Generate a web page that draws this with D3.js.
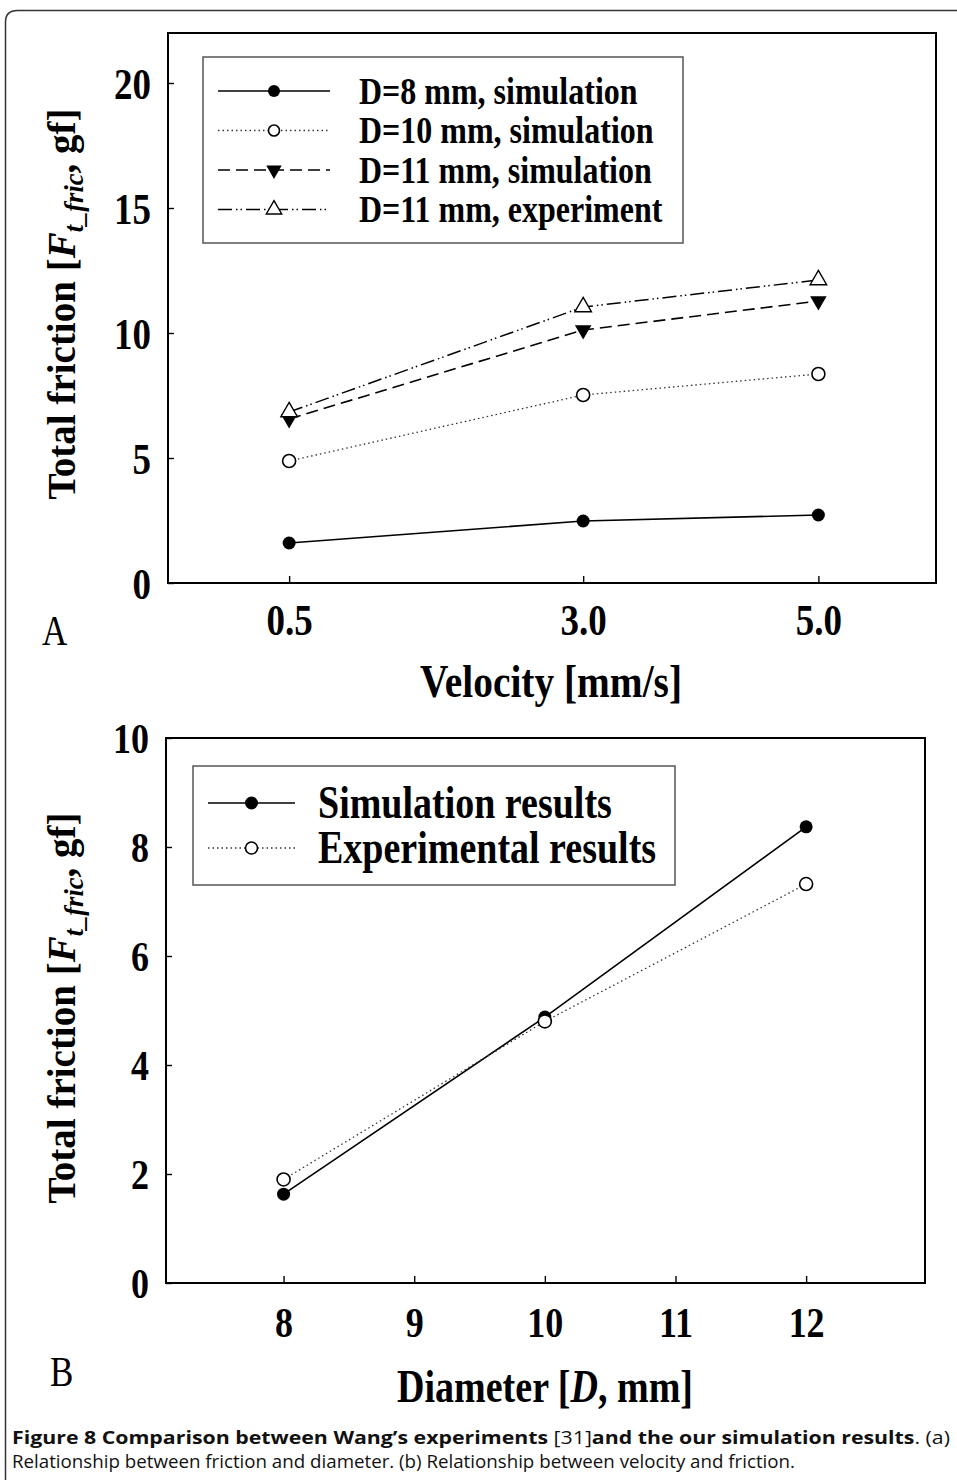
<!DOCTYPE html>
<html><head><meta charset="utf-8">
<script src="https://cdn.jsdelivr.net/npm/d3@7"></script>
<style>
body{margin:0;background:#fff;}
svg{display:block;}
.serif{font-family:"Liberation Serif","Times New Roman",serif;}
.cap{font-family:"Open Sans","Noto Sans",sans-serif;}
</style></head>
<body>
<svg id="chart" width="957" height="1480"></svg>
<script>
// ---------- data ----------
const velocity = [0.5, 3.0, 5.0];
const d8Sim  = [1.6, 2.48, 2.72];
const d10Sim = [4.88, 7.52, 8.36];
const d11Sim = [6.56, 10.12, 11.28];
const d11Exp = [6.84, 11.04, 12.12];
const velocityTicks = [0.5, 3.0, 5.0];
const frictionTicksA = [0, 5, 10, 15, 20];
const legendA = ["D=8 mm, simulation", "D=10 mm, simulation", "D=11 mm, simulation", "D=11 mm, experiment"];

const diameter = [8, 10, 12];
const simResults = [1.63, 4.88, 8.37];
const expResults = [1.9, 4.8, 7.32];
const diameterTicks = [8, 9, 10, 11, 12];
const frictionTicksB = [0, 2, 4, 6, 8, 10];
const legendB = ["Simulation results", "Experimental results"];

const svg = d3.select("#chart");
const SY = 1.2; // vertical stretch of the serif glyphs

// outer frame
svg.append("path")
  .attr("d", "M5.5,1490 L5.5,22 Q5.5,10.5 17.5,10.5 L970,10.5")
  .attr("fill","none").attr("stroke","#333").attr("stroke-width",1.5);

function stretchedText(g, x, y, size, anchor, weight){
  return g.append("text").attr("class","serif")
    .attr("transform", `translate(${x},${y}) scale(1,${SY})`)
    .attr("text-anchor", anchor).attr("font-size", size).attr("font-weight", weight||"bold");
}

function marker(g, type, x, y, s){
  if(type==="fcircle") g.append("circle").attr("cx",x).attr("cy",y).attr("r",s).attr("fill","#000");
  else if(type==="ocircle") g.append("circle").attr("cx",x).attr("cy",y).attr("r",s).attr("fill","#fff").attr("stroke","#000").attr("stroke-width",1.6);
  else if(type==="tdown") g.append("path").attr("d",d3.symbol(d3.symbolTriangle, s*s*2.1)()).attr("transform",`translate(${x},${y}) rotate(180)`).attr("fill","#000");
  else if(type==="tup") g.append("path").attr("d",d3.symbol(d3.symbolTriangle, s*s*2.1)()).attr("transform",`translate(${x},${y})`).attr("fill","#fff").attr("stroke","#000").attr("stroke-width",1.4);
}

function drawPanel(cfg){
  const g = svg.append("g");
  const x = d3.scaleLinear().domain(cfg.xDomain).range([cfg.left, cfg.right]);
  const y = d3.scaleLinear().domain(cfg.yDomain).range([cfg.bottom, cfg.top]);

  // axes (inward ticks)
  const ax = g.append("g").attr("transform",`translate(0,${cfg.bottom})`)
    .call(d3.axisBottom(x).tickValues(cfg.xTicks).tickSizeInner(-7).tickSizeOuter(0).tickPadding(0).tickFormat(cfg.xFmt));
  const ay = g.append("g").attr("transform",`translate(${cfg.left},0)`)
    .call(d3.axisLeft(y).tickValues(cfg.yTicks).tickSizeInner(-6).tickSizeOuter(0).tickPadding(0).tickFormat(d3.format("d")));
  [ax, ay].forEach(a=>{ a.select(".domain").remove(); a.selectAll("line").attr("stroke","#000").attr("stroke-width",1.4); });
  ax.selectAll("text").attr("class","serif").attr("font-size",cfg.tickSize).attr("font-weight","bold").attr("fill","#000")
    .attr("y",null).attr("dy",null).attr("transform",`translate(0,${cfg.xTickDy}) scale(1,${SY})`);
  ay.selectAll("text").attr("class","serif").attr("font-size",cfg.tickSize).attr("font-weight","bold").attr("fill","#000")
    .attr("x",null).attr("dy",null).attr("text-anchor","end").attr("transform",`translate(${-cfg.yTickDx},${cfg.tickSize*0.34*SY}) scale(1,${SY})`);

  // frame
  g.append("rect").attr("x",cfg.left).attr("y",cfg.top).attr("width",cfg.right-cfg.left).attr("height",cfg.bottom-cfg.top)
    .attr("fill","none").attr("stroke","#000").attr("stroke-width",2);

  // series
  cfg.series.forEach(s=>{
    const pts = cfg.xs.map((v,i)=>[x(v), y(s.values[i])]);
    g.append("path").attr("d", d3.line()(pts)).attr("fill","none").attr("stroke",s.stroke||"#000")
      .attr("stroke-width",s.width).attr("stroke-dasharray",s.dash);
    pts.forEach(p=>marker(g, s.marker, p[0], p[1], s.size));
  });

  // legend
  const L = cfg.legend;
  g.append("rect").attr("x",L.x).attr("y",L.y).attr("width",L.w).attr("height",L.h)
    .attr("fill","#fff").attr("stroke","#555").attr("stroke-width",1.5);
  cfg.series.forEach((s,i)=>{
    const cy = L.y0 + i*L.dy;
    g.append("line").attr("x1",L.lx1).attr("x2",L.lx2).attr("y1",cy).attr("y2",cy)
      .attr("stroke",s.stroke||"#000").attr("stroke-width",s.width).attr("stroke-dasharray",s.dash);
    marker(g, s.marker, (L.lx1+L.lx2)/2, cy, s.lsize);
    stretchedText(g, L.tx, cy + L.fs*0.33*SY, L.fs, "start").text(cfg.labels[i]);
  });

  // panel letter
  stretchedText(g, cfg.letter[0], cfg.letter[1], 35, "start", "normal").text(cfg.letter[2]);

  // y title
  const yt = g.append("text").attr("class","serif").attr("font-weight","bold").attr("font-size",cfg.yTitleSize)
    .attr("text-anchor","middle").attr("transform",`translate(${cfg.yTitleX},${cfg.yTitleY}) rotate(-90)`);
  yt.append("tspan").text("Total friction [");
  yt.append("tspan").attr("font-style","italic").text("F");
  yt.append("tspan").attr("font-style","italic").attr("font-size",cfg.yTitleSize*0.68).attr("dy",8).text("t_fric");
  yt.append("tspan").attr("dy",-8).text(", gf]");

  // x title
  const xt = stretchedText(g, cfg.xTitle.x, cfg.xTitle.y, cfg.xTitle.fs, "middle");
  cfg.xTitle.parts.forEach(p=>xt.append("tspan").attr("font-style",p[1]?"italic":null).text(p[0]));
  if(cfg.xTitle.len) xt.attr("textLength",cfg.xTitle.len).attr("lengthAdjust","spacingAndGlyphs");
}

drawPanel({
  left:168, right:936, top:33, bottom:583,
  xDomain:[-0.53, 6.0], yDomain:[0, 22],
  xTicks:velocityTicks, yTicks:frictionTicksA, xFmt:d3.format(".1f"),
  tickSize:37, xTickDy:52, yTickDx:17,
  xs:velocity,
  series:[
    {values:d8Sim, marker:"fcircle", size:6.5, lsize:6, width:1.6, dash:null},
    {values:d10Sim, marker:"ocircle", size:6.5, lsize:5.5, width:1.3, dash:"1.5,3", stroke:"#333"},
    {values:d11Sim, marker:"tdown", size:7.5, lsize:7, width:1.6, dash:"12,6"},
    {values:d11Exp, marker:"tup", size:7.5, lsize:7, width:1.5, dash:"14,4,1.5,3,1.5,4"}
  ],
  labels:legendA,
  legend:{x:203, y:57, w:480, h:186, lx1:218, lx2:330, tx:359, y0:91, dy:39.5, fs:32},
  letter:[42, 645, "A"],
  yTitleX:75, yTitleY:304, yTitleSize:39,
  xTitle:{x:551, y:697, fs:38, parts:[["Velocity [mm/s]",false]], len:262}
});

drawPanel({
  left:166, right:925, top:738, bottom:1283,
  xDomain:[7.1, 12.91], yDomain:[0, 10],
  xTicks:diameterTicks, yTicks:frictionTicksB, xFmt:d3.format("d"),
  tickSize:36, xTickDy:54, yTickDx:17,
  xs:diameter,
  series:[
    {values:simResults, marker:"fcircle", size:6.5, lsize:6.5, width:1.6, dash:null},
    {values:expResults, marker:"ocircle", size:6.5, lsize:6, width:1.3, dash:"1.5,3", stroke:"#333"}
  ],
  labels:legendB,
  legend:{x:193, y:766, w:482, h:119, lx1:208, lx2:295, tx:318, y0:803, dy:45, fs:38},
  letter:[50, 1386, "B"],
  yTitleX:75, yTitleY:1008, yTitleSize:39,
  xTitle:{x:545, y:1402, fs:38, parts:[["Diameter [",false],["D",true],[", mm]",false]], len:296}
});

// caption
const c1 = svg.append("text").attr("class","cap").attr("x",12).attr("y",1444).attr("font-size",17.5).attr("fill","#111")
  .attr("textLength",938).attr("lengthAdjust","spacingAndGlyphs");
c1.append("tspan").attr("font-weight","bold").text("Figure 8 Comparison between Wang\u2019s experiments");
c1.append("tspan").attr("font-weight","normal").text(" [31]");
c1.append("tspan").attr("font-weight","bold").text("and the our simulation results");
c1.append("tspan").attr("font-weight","normal").text(". (a)");
svg.append("text").attr("class","cap").attr("x",12).attr("y",1468).attr("font-size",17.5).attr("fill","#111")
  .attr("textLength",783).attr("lengthAdjust","spacingAndGlyphs")
  .text("Relationship between friction and diameter. (b) Relationship between velocity and friction.");
</script>
</body></html>
